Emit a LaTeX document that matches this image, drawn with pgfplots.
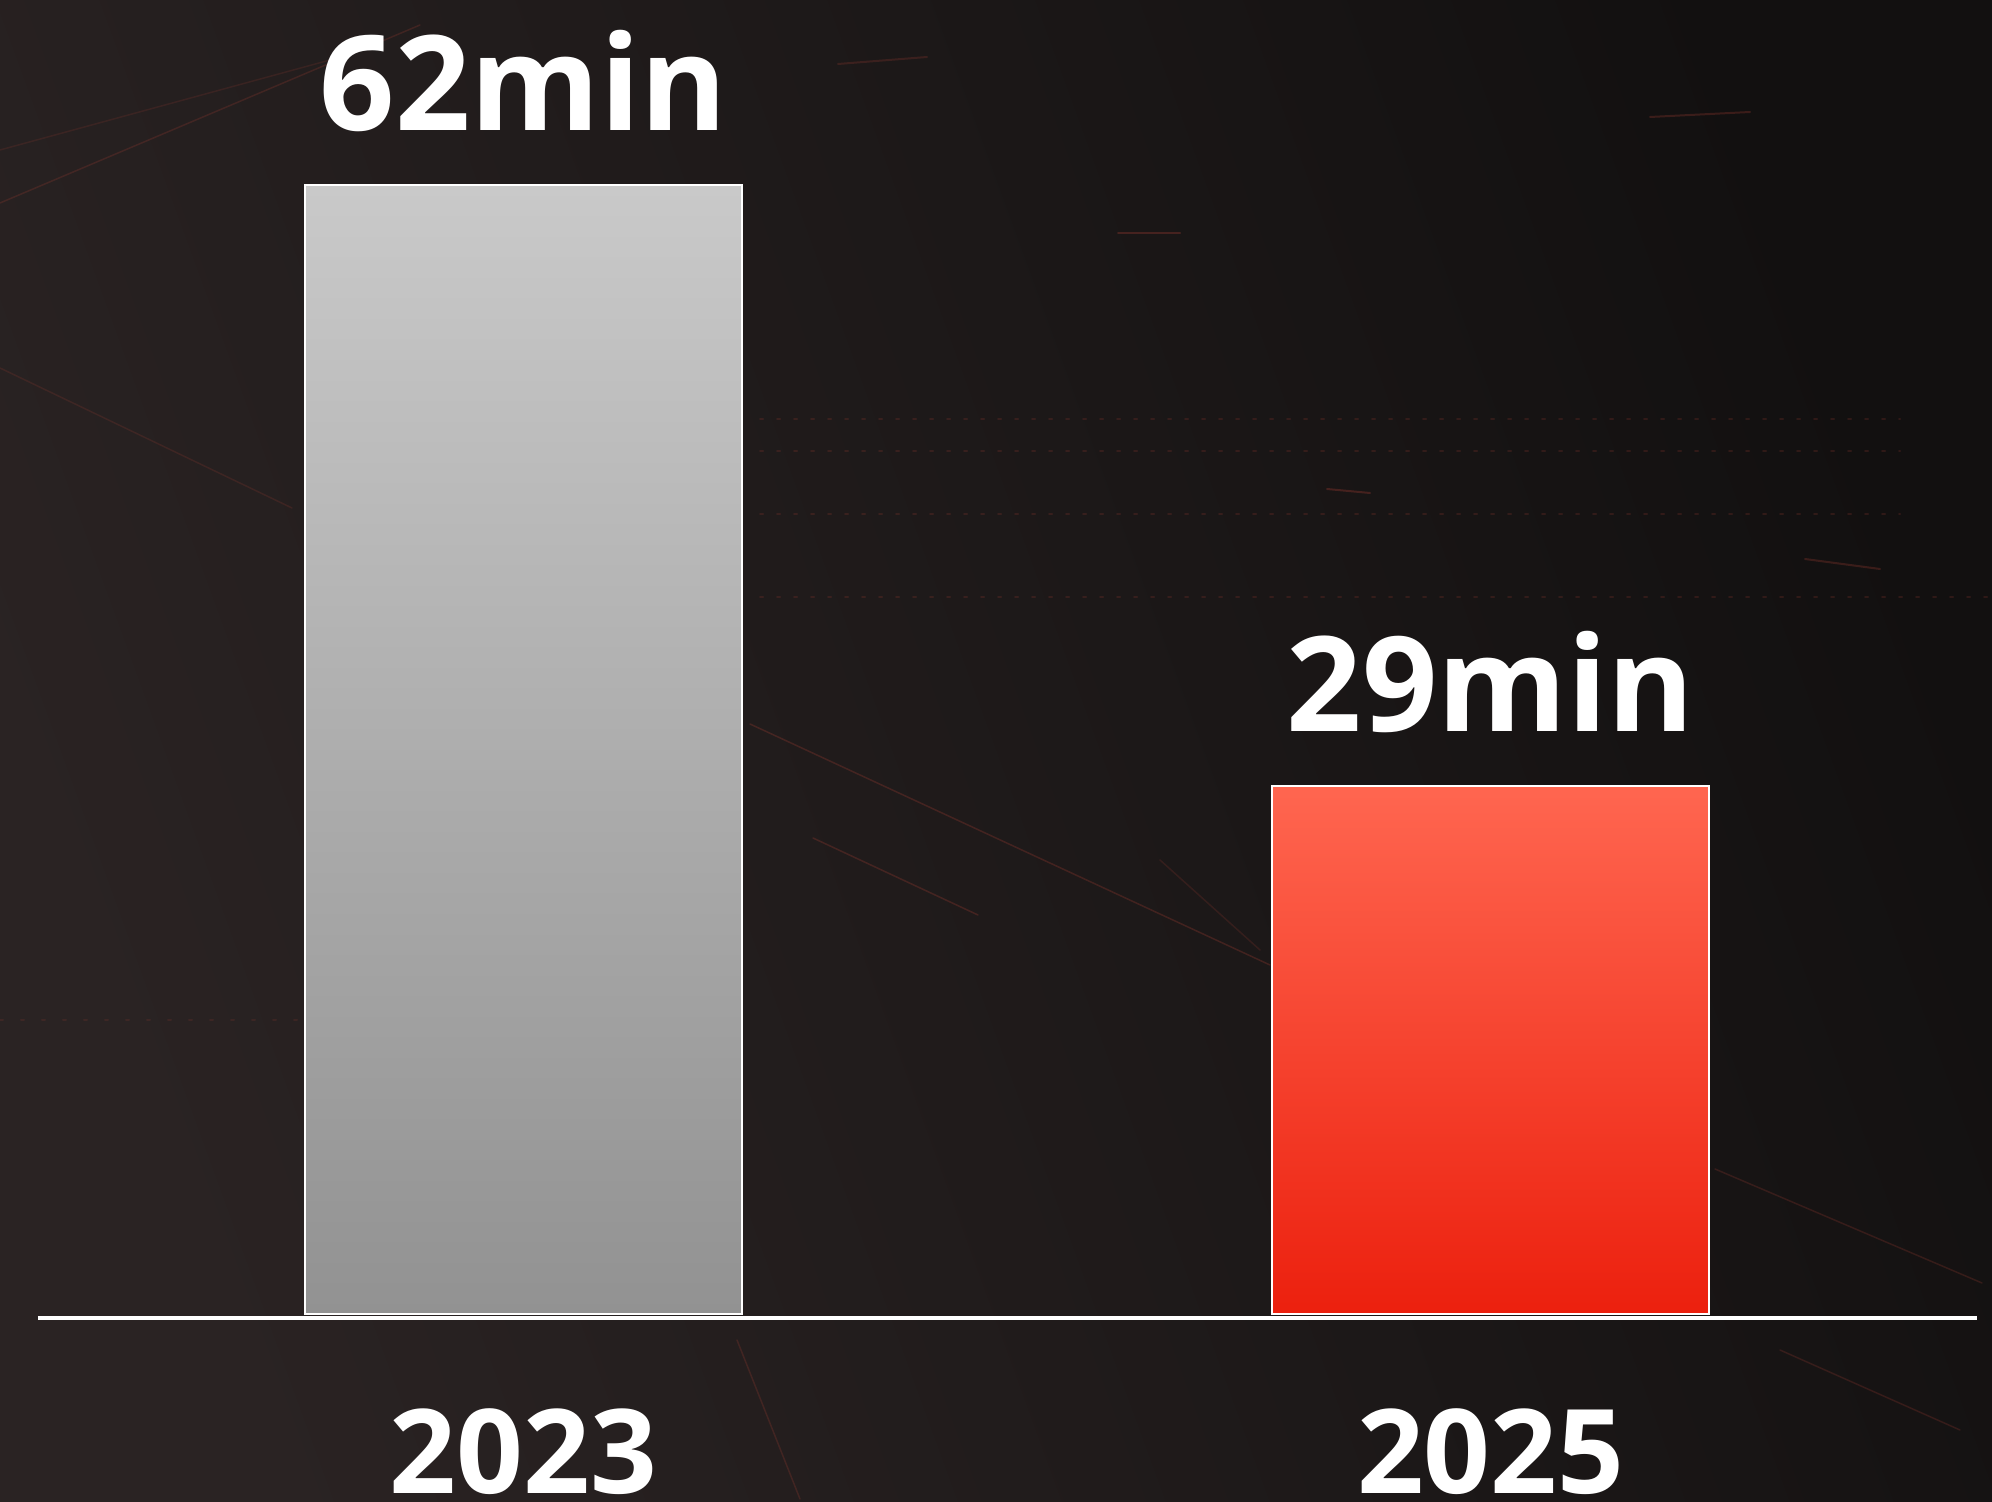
\documentclass[border=0pt]{standalone}
\usepackage{fontspec}
\setmainfont{Open Sans}
\usepackage{pgfplots}
\pgfplotsset{compat=1.18}
\definecolor{bgA}{HTML}{2A2323}
\definecolor{bgB}{HTML}{121010}
\definecolor{grayTop}{HTML}{C9C9C9}
\definecolor{grayBot}{HTML}{929292}
\definecolor{redTop}{HTML}{FF6650}
\definecolor{redBot}{HTML}{EC200E}
\definecolor{streak}{HTML}{9A3A30}
\begin{document}
\begin{tikzpicture}
\shade[use as bounding box, left color=bgA, right color=bgB, shading angle=110] (0pt,0pt) rectangle (996pt,750.5pt);
% faint decorative streaks of the background (coordinates in image pixels from the top-left)
\begin{scope}[x=0.5pt, y=-0.5pt, shift={(0pt,750.5pt)}, streak, line cap=round]
  \draw[opacity=0.25, line width=0.75pt] (0,203) -- (420,25);
  \draw[opacity=0.18, line width=0.75pt] (0,150) -- (330,60);
  \draw[opacity=0.30, line width=0.75pt] (750,724) -- (1270,965);
  \draw[opacity=0.30, line width=0.75pt] (813,838) -- (978,915);
  \draw[opacity=0.25, line width=0.75pt] (1715,1169) -- (1982,1283);
  \draw[opacity=0.20, line width=0.75pt] (0,368) -- (292,508);
  \draw[opacity=0.25, line width=0.75pt] (737,1340) -- (800,1499);
  \draw[opacity=0.25, line width=0.75pt] (1780,1350) -- (1960,1430);
  \draw[opacity=0.20, line width=0.75pt] (1160,860) -- (1260,950);
  \draw[opacity=0.35, line width=1pt] (1118,233) -- (1180,233);
  \draw[opacity=0.30, line width=1pt] (1650,117) -- (1750,112);
  \draw[opacity=0.35, line width=1pt] (1327,489) -- (1370,493);
  \draw[opacity=0.30, line width=1pt] (1805,559) -- (1880,569);
  \draw[opacity=0.25, line width=1pt] (838,64) -- (927,57);
  \draw[opacity=0.22, line width=1pt, dash pattern=on 1.5pt off 7pt] (760,419) -- (1900,419);
  \draw[opacity=0.22, line width=1pt, dash pattern=on 1.5pt off 7pt] (760,451) -- (1900,451);
  \draw[opacity=0.22, line width=1pt, dash pattern=on 1.5pt off 7pt] (760,514) -- (1900,514);
  \draw[opacity=0.22, line width=1pt, dash pattern=on 1.5pt off 7pt] (760,597) -- (1990,597);
  \draw[opacity=0.18, line width=1pt, dash pattern=on 1.5pt off 9pt] (0,1020) -- (300,1020);
\end{scope}
\begin{axis}[
  at={(19pt,93.7pt)}, anchor=south west,
  scale only axis, width=969.5pt, height=637pt,
  xmin=-0.502, xmax=1.503, ymin=0, ymax=70,
  clip=false,
  axis line style={draw=none},
  tick style={draw=none},
  ytick=\empty,
  xtick={0,1}, xticklabels={2023,2025},
  xticklabel style={anchor=base, inner sep=0pt, yshift=-89.7pt, text=white,
    font=\fontsize{58.5}{64}\selectfont\bfseries},
  nodes near coords={\pgfmathprintnumber[assume math mode=true]{\pgfplotspointmeta}min},
  every node near coord/.append style={anchor=base, inner sep=0pt, yshift=27.3pt,
    text=white, font=\fontsize{66}{74}\selectfont\bfseries},
]
\addplot[ybar, bar width=0.452, bar shift=0pt, draw=white, line width=1pt,
  top color=grayTop, bottom color=grayBot] coordinates {(0,62)};
\addplot[ybar, bar width=0.452, bar shift=0pt, draw=white, line width=1pt,
  top color=redTop, bottom color=redBot] coordinates {(1,29)};
\draw[white, line width=2pt] ([yshift=-2.2pt]rel axis cs:0,0) -- ([yshift=-2.2pt]rel axis cs:1,0);
\end{axis}
\end{tikzpicture}
\end{document}
